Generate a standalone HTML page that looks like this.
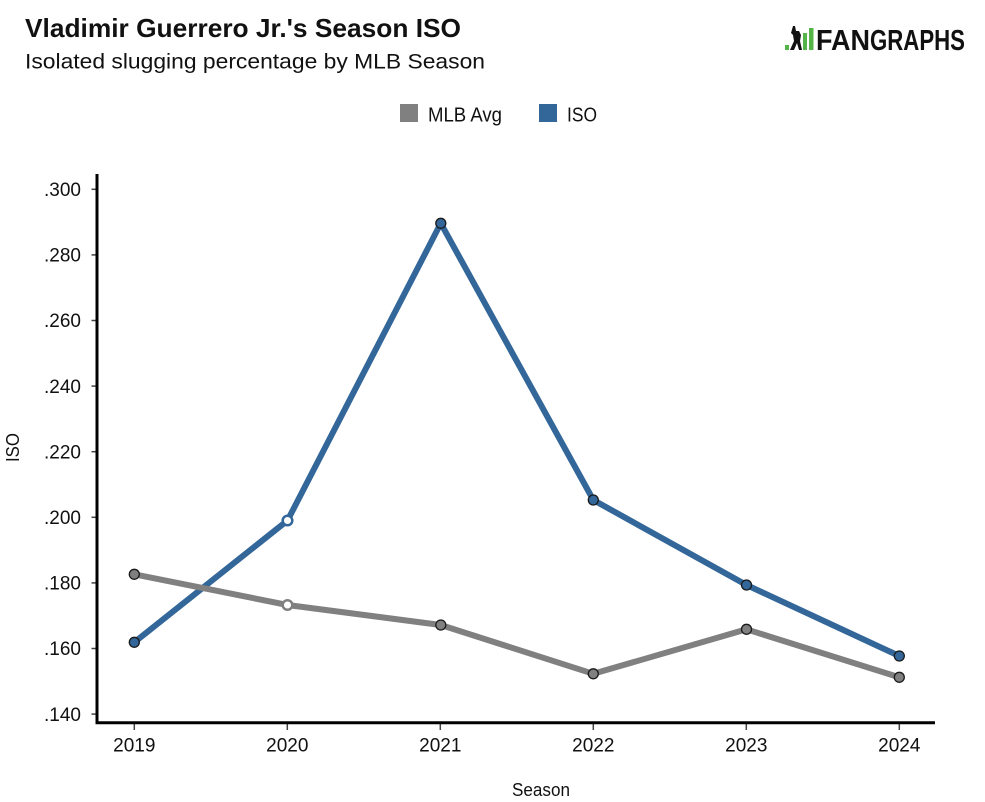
<!DOCTYPE html>
<html>
<head>
<meta charset="utf-8">
<style>
  html, body { margin: 0; padding: 0; background: #fff; }
  svg { display: block; }
  text { font-family: "Liberation Sans", "DejaVu Sans", sans-serif; fill: #111; }
</style>
</head>
<body>
<svg width="985" height="802" viewBox="0 0 985 802" xmlns="http://www.w3.org/2000/svg">
  <rect x="0" y="0" width="985" height="802" fill="#fff"/>

  <!-- Title -->
  <text x="25" y="37" font-size="26" font-weight="bold" textLength="436" lengthAdjust="spacingAndGlyphs">Vladimir Guerrero Jr.'s Season ISO</text>
  <text x="25" y="68.5" font-size="21" textLength="460" lengthAdjust="spacingAndGlyphs" fill="#222">Isolated slugging percentage by MLB Season</text>

  <!-- FanGraphs logo -->
  <g>
    <rect x="785" y="45" width="4" height="5" fill="#55b447"/>
    <path d="M793 26 L795 26 L796 31 L799 31 L801 35 L800 41 L802 50 L799 50 L797 43 L794 50 L790 50 L794 41 L793 35 L791 33 Z" fill="#111"/>
    <rect x="803" y="33" width="4" height="17" fill="#55b447"/>
    <rect x="809" y="28" width="4.5" height="22" fill="#55b447"/>
    <text x="816" y="50" font-size="29" font-weight="bold" textLength="54" lengthAdjust="spacingAndGlyphs" fill="#111">FAN</text>
    <text x="870" y="50" font-size="29" font-weight="bold" textLength="95" lengthAdjust="spacingAndGlyphs" fill="#55b447">GRAPHS</text>
  </g>

  <!-- Legend -->
  <rect x="400" y="104" width="18" height="18" fill="#808080"/>
  <text x="428" y="121.5" font-size="20" textLength="74" lengthAdjust="spacingAndGlyphs">MLB Avg</text>
  <rect x="539" y="104" width="18" height="18" fill="#336699"/>
  <text x="567" y="121.5" font-size="20" textLength="30" lengthAdjust="spacingAndGlyphs">ISO</text>

  <!-- Y axis ticks & labels -->
  <g stroke="#444" stroke-width="1.5">
    <line x1="91.5" y1="189.3" x2="97" y2="189.3"/>
    <line x1="91.5" y1="254.9" x2="97" y2="254.9"/>
    <line x1="91.5" y1="320.5" x2="97" y2="320.5"/>
    <line x1="91.5" y1="386.1" x2="97" y2="386.1"/>
    <line x1="91.5" y1="451.7" x2="97" y2="451.7"/>
    <line x1="91.5" y1="517.3" x2="97" y2="517.3"/>
    <line x1="91.5" y1="582.9" x2="97" y2="582.9"/>
    <line x1="91.5" y1="648.5" x2="97" y2="648.5"/>
    <line x1="91.5" y1="714.1" x2="97" y2="714.1"/>
  </g>
  <g font-size="19" text-anchor="end">
    <text x="81" y="196">.300</text>
    <text x="81" y="261.6">.280</text>
    <text x="81" y="327.2">.260</text>
    <text x="81" y="392.8">.240</text>
    <text x="81" y="458.4">.220</text>
    <text x="81" y="524">.200</text>
    <text x="81" y="589.6">.180</text>
    <text x="81" y="655.2">.160</text>
    <text x="81" y="720.8">.140</text>
  </g>

  <!-- X axis ticks & labels -->
  <g stroke="#444" stroke-width="1.5">
    <line x1="134.3" y1="723" x2="134.3" y2="730"/>
    <line x1="287.3" y1="723" x2="287.3" y2="730"/>
    <line x1="440.3" y1="723" x2="440.3" y2="730"/>
    <line x1="593.3" y1="723" x2="593.3" y2="730"/>
    <line x1="746.3" y1="723" x2="746.3" y2="730"/>
    <line x1="899.3" y1="723" x2="899.3" y2="730"/>
  </g>
  <g font-size="19" text-anchor="middle">
    <text x="134.3" y="751.5">2019</text>
    <text x="287.3" y="751.5">2020</text>
    <text x="440.3" y="751.5">2021</text>
    <text x="593.3" y="751.5">2022</text>
    <text x="746.3" y="751.5">2023</text>
    <text x="899.3" y="751.5">2024</text>
  </g>

  <!-- Axis lines -->
  <line x1="97" y1="174" x2="97" y2="724" stroke="#000" stroke-width="3"/>
  <line x1="95.5" y1="722.7" x2="935" y2="722.7" stroke="#000" stroke-width="3"/>

  <!-- Axis titles -->
  <text x="541" y="796" font-size="18" text-anchor="middle" textLength="58" lengthAdjust="spacingAndGlyphs">Season</text>
  <text transform="translate(19,447.5) rotate(-90)" font-size="18" text-anchor="middle" textLength="29" lengthAdjust="spacingAndGlyphs">ISO</text>

  <!-- ISO series -->
  <polyline points="134.3,642.3 287.5,520.5 440.8,223.3 593.3,500 746.5,585 899.3,656" fill="none" stroke="#336699" stroke-width="6" stroke-linejoin="round"/>
  <g stroke="#1a1a1a" stroke-width="1.3" fill="#336699">
    <circle cx="134.3" cy="642.3" r="5"/>
    <circle cx="440.8" cy="223.3" r="5"/>
    <circle cx="593.3" cy="500" r="5"/>
    <circle cx="746.5" cy="585" r="5"/>
    <circle cx="899.3" cy="656" r="5"/>
  </g>
  <circle cx="287.5" cy="520.5" r="4.8" fill="#fff" stroke="#336699" stroke-width="2.5"/>

  <!-- MLB Avg series -->
  <polyline points="134.3,574.3 287.5,605 440.8,625 593.3,673.8 746.5,629.3 899.3,677.3" fill="none" stroke="#808080" stroke-width="6" stroke-linejoin="round"/>
  <g stroke="#1a1a1a" stroke-width="1.3" fill="#808080">
    <circle cx="134.3" cy="574.3" r="5"/>
    <circle cx="440.8" cy="625" r="5"/>
    <circle cx="593.3" cy="673.8" r="5"/>
    <circle cx="746.5" cy="629.3" r="5"/>
    <circle cx="899.3" cy="677.3" r="5"/>
  </g>
  <circle cx="287.5" cy="605" r="4.8" fill="#fff" stroke="#808080" stroke-width="2.5"/>
</svg>
</body>
</html>
